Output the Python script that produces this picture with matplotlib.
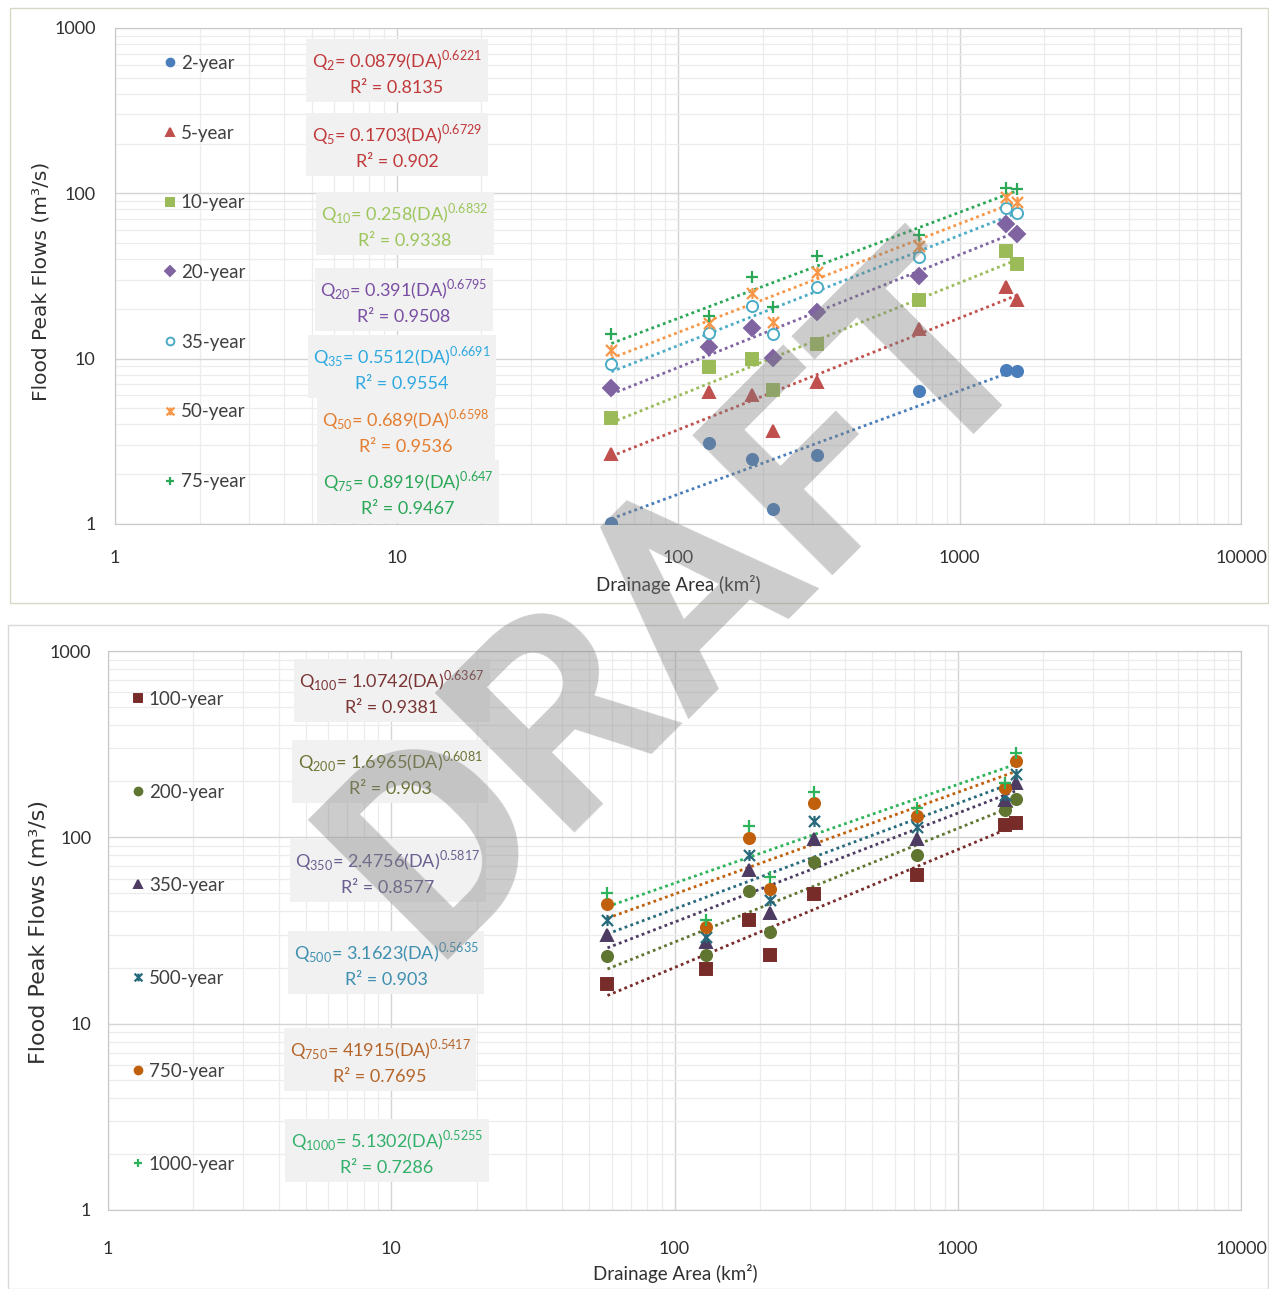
import numpy as np
import matplotlib.pyplot as plt
from matplotlib.path import Path
from matplotlib.patches import Rectangle

plt.rcParams['font.family'] = ['Lato', 'DejaVu Sans']

# drainage areas (km2) of the gauged catchments
da = [58, 129, 183, 217, 312, 718, 1463, 1600]

# flood peak flows (m3/s), upper chart
top_labels = ['2-year', '5-year', '10-year', '20-year', '35-year', '50-year', '75-year']
q2 = [1.02, 3.1, 2.46, 1.24, 2.61, 6.4, 8.5, 8.4]
q5 = [2.65, 6.3, 6.0, 3.67, 7.26, 15.1, 27, 22.6]
q10 = [4.36, 8.9, 9.9, 6.44, 12.3, 22.6, 45, 37.6]
q20 = [6.62, 11.7, 15.3, 10.05, 19.2, 31.7, 65, 57]
q35 = [9.3, 14.2, 20.8, 14.1, 27, 41, 82, 76]
q50 = [11.3, 16.4, 24.9, 16.7, 33.6, 48, 95, 89]
q75 = [14.1, 18.2, 31, 20.6, 41.8, 56, 107, 106]

# lower chart
bot_labels = ['100-year', '200-year', '350-year', '500-year', '750-year', '1000-year']
q100 = [16.3, 19.6, 36, 23.3, 49.4, 62.8, 116, 120]
q200 = [23, 23.5, 51.5, 31.1, 73.4, 80.4, 140, 160]
q350 = [30, 27.5, 67, 39.4, 98, 98, 158, 196]
q500 = [36, 29.3, 80, 46, 122, 113, 169, 220]
q750 = [44, 33, 99, 52.8, 153, 130, 183, 258]
q1000 = [50.4, 36, 115, 61, 176, 143, 196, 284]

top_eq = [('2', '0.0879', '0.6221', '0.8135'),
          ('5', '0.1703', '0.6729', '0.902'),
          ('10', '0.258', '0.6832', '0.9338'),
          ('20', '0.391', '0.6795', '0.9508'),
          ('35', '0.5512', '0.6691', '0.9554'),
          ('50', '0.689', '0.6598', '0.9536'),
          ('75', '0.8919', '0.647', '0.9467')]
bot_eq = [('100', '1.0742', '0.6367', '0.9381'),
          ('200', '1.6965', '0.6081', '0.903'),
          ('350', '2.4756', '0.5817', '0.8577'),
          ('500', '3.1623', '0.5635', '0.903'),
          ('750', '41915', '0.5417', '0.7695'),
          ('1000', '5.1302', '0.5255', '0.7286')]

# excel style "star" marker: an x with a vertical bar
star = Path([(-1, -1), (1, 1), (-1, 1), (1, -1), (0, -1), (0, 1)],
            [Path.MOVETO, Path.LINETO, Path.MOVETO, Path.LINETO, Path.MOVETO, Path.LINETO])

top_style = [('o', '#4a7ebb', '#4a7ebb'), ('^', '#c0504d', '#c0504d'), ('s', '#9bbb59', '#9bbb59'),
             ('D', '#8064a2', '#8064a2'), ('o', 'white', '#4bacc6'), (star, '#f79646', '#f79646'),
             ('+', '#2aa757', '#2aa757')]
top_eqcol = ['#c0393b', '#c0393b', '#9cc65c', '#7a4fa3', '#2ea9e0', '#e47d30', '#2aa757']
bot_style = [('s', '#772c2a', '#772c2a'), ('o', '#5f7530', '#5f7530'), ('^', '#4d3b62', '#4d3b62'),
             (star, '#276a7c', '#276a7c'), ('o', '#c0600c', '#c0600c'), ('+', '#2db45a', '#2db45a')]
bot_eqcol = ['#7a3535', '#6e7335', '#6b5e91', '#3f8fb0', '#b5652a', '#33b06a']

W, H = 1269, 1289
fig = plt.figure(figsize=(W / 100, H / 100), dpi=100)
fig.add_artist(Rectangle((10 / W, 1 - 603 / H), 1258 / W, 595 / H, transform=fig.transFigure,
                         fill=False, edgecolor='#d8d8c8', lw=1))
fig.add_artist(Rectangle((8 / W, 0), 1260 / W, 1 - 625 / H, transform=fig.transFigure,
                         fill=False, edgecolor='#d9d9d9', lw=1))


def panel(rect, series, labels, styles, eqs, eqcols, eqpos, leg_anchor, leg_space, px):
    ax = fig.add_axes(rect)
    x = np.array(da, dtype=float)
    for q, lab, (m, fc, ec) in zip(series, labels, styles):
        y = np.array(q, dtype=float)
        mw = 1.6 if m in ('+',) or m is star else 1.4
        ax.plot(x, y, ls='none', marker=m, ms=8, mfc=fc, mec=ec, mew=mw, label=lab, zorder=3)
        # power-law trend line, fitted in log space like the excel trendline
        b, a = np.polyfit(np.log10(x), np.log10(y), 1)
        xx = np.array([x.min(), x.max()])
        ax.plot(xx, 10 ** a * xx ** b, ls=(0, (1, 1.2)), lw=2, color=ec, zorder=2)
    ax.set_xscale('log')
    ax.set_yscale('log')
    ax.set_xlim(1, 10000)
    ax.set_ylim(1, 1000)
    ax.set_xticks([1, 10, 100, 1000, 10000])
    ax.set_xticklabels(['1', '10', '100', '1000', '10000'])
    ax.set_yticks([1, 10, 100, 1000])
    ax.set_yticklabels(['1', '10', '100', '1000'])
    ax.tick_params(which='both', length=0, labelsize=13, colors='#303030')
    ax.tick_params(axis='x', pad=px[0])
    ax.tick_params(axis='y', pad=px[1])
    ax.grid(True, which='major', color='#d4d4d4', lw=1)
    ax.grid(True, which='minor', color='#ececec', lw=0.9)
    for s in ax.spines.values():
        s.set_color('#c8c8c8')
    leg = ax.legend(loc='upper left', bbox_to_anchor=leg_anchor, frameon=False, fontsize=13.5,
                    labelspacing=leg_space, handlelength=0.6, handletextpad=0.3, markerscale=0.7,
                    borderpad=0, borderaxespad=0)
    for t in leg.get_texts():
        t.set_color('#404040')
    for (sub, c, e, r2), col, (ex, ey) in zip(eqs, eqcols, eqpos):
        s = 'Q$_{\\mathregular{' + sub + '}}$= ' + c + '(DA)$^{\\mathregular{' + e + '}}$\nR\u00b2 = ' + r2
        ax.text(ex, ey, s, transform=ax.transAxes, ha='center', va='center', fontsize=13,
                color=col, linespacing=1.6, zorder=4,
                bbox=dict(facecolor='#f1f1f1', edgecolor='none', pad=4))
    ax.set_xlabel('Drainage Area (km\u00b2)', fontsize=13.5, color='#303030')
    ax.set_ylabel('Flood Peak Flows (m\u00b3/s)', fontsize=14.5, color='#303030', family='DejaVu Sans')
    return ax


# upper chart: plot area 115..1241 x 28..524 px
ax1_rect = [115 / W, 1 - 524 / H, 1126 / W, 496 / H]
top_px = [(397, 72), (397, 146), (405, 225), (404, 301), (402, 368), (406, 431), (408, 493)]
top_pos = [((px - 115) / 1126, (524 - py) / 496) for px, py in top_px]
ax1 = panel(ax1_rect, [q2, q5, q10, q20, q35, q50, q75], top_labels, top_style, top_eq,
            top_eqcol, top_pos, ((164 - 115) / 1126, (524 - 55) / 496), 2.81, (19, 14))
ax1.xaxis.set_label_coords(0.5, -0.103)
ax1.yaxis.set_label_coords(-0.057, 0.49)

# lower chart: plot area 108..1241 x 651..1210 px
ax2_rect = [108 / W, 1 - 1210 / H, 1133 / W, 559 / H]
bot_px = [(392, 692), (390, 773), (388, 872), (386, 964), (380, 1061), (387, 1152)]
bot_pos = [((px - 108) / 1133, (1210 - py) / 559) for px, py in bot_px]
ax2 = panel(ax2_rect, [q100, q200, q350, q500, q750, q1000], bot_labels, bot_style, bot_eq,
            bot_eqcol, bot_pos, ((132 - 108) / 1133, (1210 - 691) / 559), 4.05, (22, 12))
ax2.xaxis.set_label_coords(0.501, -0.097)
ax2.yaxis.set_label_coords(-0.052, 0.497)
ax2.yaxis.label.set_fontsize(16)

# watermark, anchored at the left end of its baseline
fig.text(430 / W, 1 - 960 / H, 'DRAFT', rotation=45, rotation_mode='anchor', fontsize=200,
         ha='left', va='baseline', color='#808080', alpha=0.4, weight='bold', zorder=10,
         family=['Roboto', 'Lato'])

fig.savefig('out.png', dpi=100)
